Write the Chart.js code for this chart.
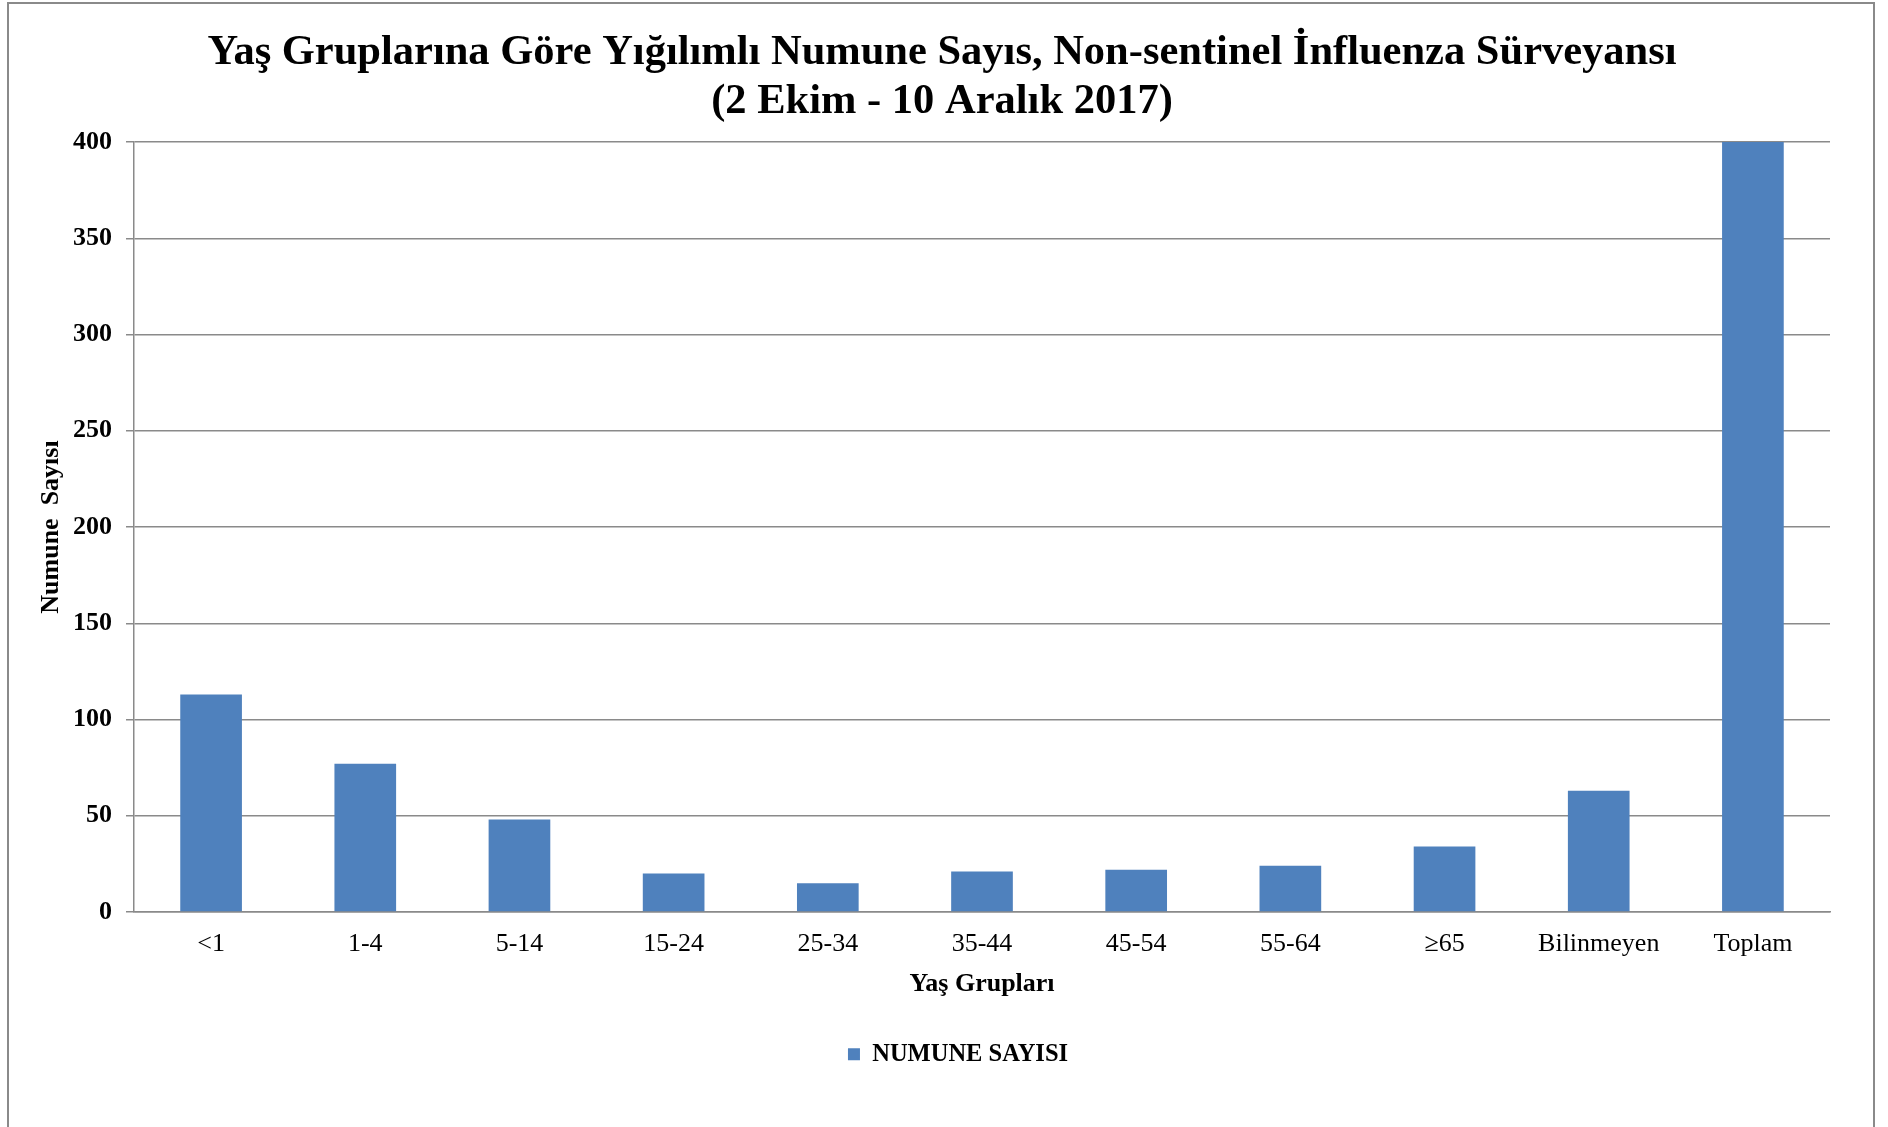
<!DOCTYPE html>
<html lang="tr">
<head>
<meta charset="utf-8">
<title>Yaş Gruplarına Göre Yığılımlı Numune Sayıs</title>
<script src="https://cdn.jsdelivr.net/npm/chart.js@4.4.1/dist/chart.umd.min.js"></script>
<style>
  html, body { margin: 0; padding: 0; background: #ffffff; overflow: hidden; }
  #wrap { position: relative; width: 1888px; height: 1127px; }
  #frame { position: absolute; left: 7px; top: 2px; width: 1868px; height: 1200px;
           border: 2px solid #8a8a8a; box-sizing: border-box; pointer-events: none; }
  canvas { position: absolute; left: 0; top: 0; }
</style>
</head>
<body>
<div id="wrap">
  <canvas id="c" width="1888" height="1127"></canvas>
  <div id="frame"></div>
</div>
<script>
// ---- data ----
const categories = ['<1', '1-4', '5-14', '15-24', '25-34', '35-44', '45-54', '55-64', '≥65', 'Bilinmeyen', 'Toplam'];
const numuneSayisi = [113, 77, 48, 20, 15, 21, 22, 24, 34, 63, 437];
const seriesName = 'NUMUNE SAYISI';
const titleLines = ['Yaş Gruplarına Göre Yığılımlı Numune Sayıs, Non-sentinel İnfluenza Sürveyansı', '(2 Ekim - 10 Aralık 2017)'];
const yAxisTitle = 'Numune  Sayısı';
const xAxisTitle = 'Yaş Grupları';
const yTickMin = 0, yTickMax = 400, yTickStep = 50;

const serif = '"Liberation Serif", "Times New Roman", Times, serif';
const gridGray = '#8a8a8a';

const shiftPlugin = {
  id: 'shiftBlocks',
  afterLayout(chart) {
    const t = chart.titleBlock;
    if (t) { t.left += 27; t.right += 27; }
    const l = chart.legend;
    if (l) { l.left += 43; l.right += 43; }
  }
};

new Chart(document.getElementById('c'), {
  type: 'bar',
  data: {
    labels: categories,
    datasets: [{
      label: seriesName,
      data: numuneSayisi,
      backgroundColor: '#4F81BD',
      borderWidth: 0,
      categoryPercentage: 1.0,
      barPercentage: 0.4
    }]
  },
  options: {
    responsive: false,
    devicePixelRatio: 1,
    animation: false,
    layout: { padding: { left: 0, right: 58, top: 0, bottom: 50.5 } },
    plugins: {
      title: {
        display: true,
        text: titleLines,
        color: '#000',
        font: { family: serif, size: 42.5, weight: 'bold', lineHeight: 1.15 },
        padding: { top: 28.5, bottom: 15.75 }
      },
      legend: {
        display: true,
        position: 'bottom',
        labels: {
          color: '#000',
          font: { family: serif, size: 24.5, weight: 'bold', lineHeight: 1.2 },
          boxWidth: 12,
          boxHeight: 12,
          padding: 42
        }
      },
      tooltip: { enabled: false }
    },
    scales: {
      x: {
        grid: { display: false, drawTicks: false },
        border: { display: true, color: gridGray, width: 1.5 },
        ticks: {
          color: '#000',
          font: { family: serif, size: 26, lineHeight: 1.2 },
          padding: 17,
          maxRotation: 0,
          autoSkip: false
        },
        title: {
          display: true,
          text: xAxisTitle,
          color: '#000',
          font: { family: serif, size: 26, weight: 'bold', lineHeight: 1.2 },
          padding: { top: 0, bottom: 0 }
        },
        afterFit(scale) { scale.height = 88; }
      },
      y: {
        min: yTickMin,
        max: yTickMax,
        grid: { color: gridGray, lineWidth: 1.5, drawTicks: true, tickLength: 8 },
        border: { display: true, color: gridGray, width: 1.5 },
        ticks: {
          stepSize: yTickStep,
          color: '#000',
          font: { family: serif, size: 26, weight: 'bold', lineHeight: 1.2 },
          padding: 14
        },
        title: {
          display: true,
          text: yAxisTitle,
          color: '#000',
          font: { family: serif, size: 26, weight: 'bold', lineHeight: 1.2 },
          padding: { top: 36, bottom: 0 }
        },
        afterFit(scale) { scale.width = 134; }
      }
    }
  },
  plugins: [shiftPlugin]
});
</script>
</body>
</html>
